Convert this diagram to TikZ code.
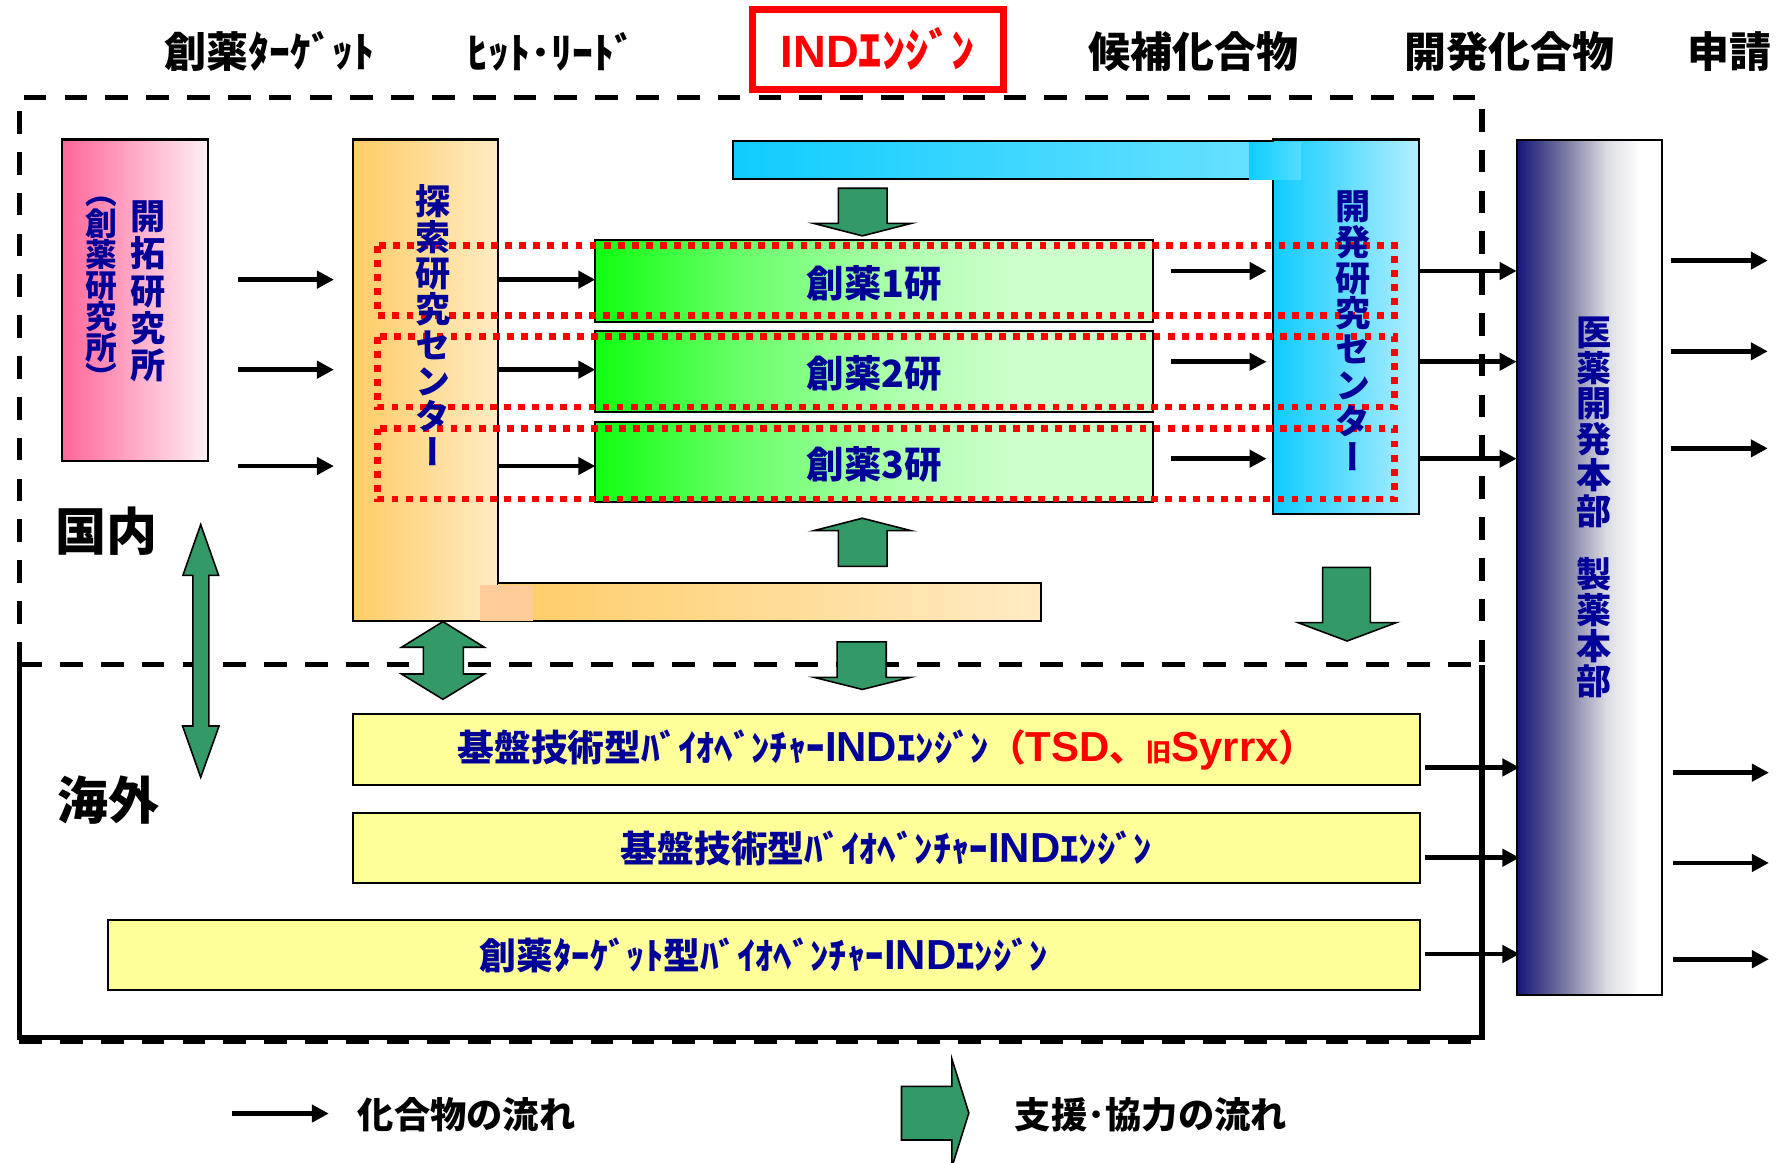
\documentclass[tikz,border=0pt]{standalone}
\usepackage{fontspec}
\newfontfamily\jp{Noto Sans CJK JP}
\newfontfamily\jpv{Noto Sans CJK JP}[RawFeature={+vert}]
\newfontfamily\lat{Liberation Sans}
\usetikzlibrary{arrows.meta,fit}
\definecolor{cNavy}{HTML}{000099}
\definecolor{cRed}{HTML}{FF0000}
\definecolor{cPinkL}{HTML}{FF6699}
\definecolor{cPinkR}{HTML}{FFF0F6}
\definecolor{cOrgL}{HTML}{FFCC66}
\definecolor{cOrgR}{HTML}{FFEBC4}
\definecolor{cPeach}{HTML}{FFCC99}
\definecolor{cCyanL}{HTML}{0FCCFF}
\definecolor{cCyanBar}{HTML}{66E0FF}
\definecolor{cCyanPatch}{HTML}{55DDFF}
\definecolor{cCyanR}{HTML}{B5EEFF}
\definecolor{cGrn0}{HTML}{11FF11}
\definecolor{cGrn1}{HTML}{66FF66}
\definecolor{cGrn2}{HTML}{B0FFB0}
\definecolor{cGrn3}{HTML}{CCFFCC}
\definecolor{cYel}{HTML}{FFFF99}
\definecolor{cBlk}{HTML}{339966}
\definecolor{cIyA}{HTML}{141478}
\definecolor{cIyB}{HTML}{7878A0}
\definecolor{cIyC}{HTML}{DCDCE4}
\definecolor{cWhite}{HTML}{FFFFFF}
\pgfdeclarehorizontalshading{iyakushade}{100bp}{color(0bp)=(cIyA); color(25bp)=(cIyA); color(41.5bp)=(cIyB); color(56bp)=(cIyC); color(67.5bp)=(cWhite); color(100bp)=(cWhite)}
\pgfdeclarehorizontalshading{grnshade}{100bp}{color(0bp)=(cGrn0); color(25bp)=(cGrn0); color(37.5bp)=(cGrn1); color(52.5bp)=(cGrn2); color(62.5bp)=(cGrn3); color(100bp)=(cGrn3)}
\newcommand\latrun[1]{{\lat\fontsize{18.5}{20}\selectfont #1}}
\begin{document}
\begin{tikzpicture}[x=0.5pt,y=-0.5pt,
  bx/.style={draw=black, line width=0.9pt, inner sep=0pt},
  vtext/.style={text=cNavy, align=center, inner sep=0pt, font=\jpv\bfseries\fontsize{15.5}{15.8}\selectfont},
  flow/.style={line width=2.1pt, -{Triangle[length=7.5pt,width=7.5pt]}},
  gblk/.style={fill=cBlk, draw=black, line width=0.7pt, line join=miter},
  frameln/.style={line width=2.3pt},
  framedash/.style={line width=2.3pt, dash pattern=on 10pt off 8pt},
  reddot/.style={draw=cRed, line width=3pt, dash pattern=on 3pt off 3.2pt},
  toplabel/.style={font=\jp\bfseries\fontsize{18.5}{20}\selectfont, inner sep=0pt},
  boxtext/.style={text=cNavy, font=\jp\bfseries\fontsize{16.2}{18}\selectfont},
  bigtext/.style={font=\jp\bfseries\fontsize{22.5}{24}\selectfont, inner sep=0pt},
  legtext/.style={font=\jp\bfseries\fontsize{16}{18}\selectfont, inner sep=0pt}
]
\useasboundingbox (0,0) rectangle (1568,1025);

% outer frame
\draw[framedash] (17,586) -- (17,86) -- (1307,86) -- (1307,586);
\draw[framedash] (17,586) -- (1307,586);
\draw[frameln] (17,586) -- (17,915) -- (1307,915) -- (1307,586);
\draw[framedash] (17,918) -- (1307,918);

% top labels
\node[toplabel] (lt1) at (238,45.5) {創薬ﾀｰｹﾞｯﾄ};
\node[toplabel] (lt2) at (486,45.5) {ﾋｯﾄ･ﾘｰﾄﾞ};
\node[fit={(663.7,8.2) (884.9,78.8)}, inner sep=0pt, draw=cRed, line width=3pt] (indbox) {};
\node[text=cRed, inner sep=0pt] (lt3) at (indbox.center) {{\lat\bfseries\fontsize{20}{22}\selectfont IND}{\jp\bfseries\fontsize{20.5}{22}\selectfont ｴﾝｼﾞﾝ}};
\node[toplabel] (lt4) at (1052.6,45.5) {候補化合物};
\node[toplabel] (lt5) at (1331,45.5) {開発化合物};
\node[toplabel] (lt6) at (1525.5,45.5) {申請};

% 開拓研究所
\node[bx, fit={(55,123) (183.5,406.5)}, left color=cPinkL, right color=cPinkR] (kaitaku) {};

% 探索研究センター + bar
\node[bx, fit={(311.5,123) (439.5,548)}, left color=cOrgL, right color=cOrgR] (tansaku) {};
\path[left color=cOrgL, right color=cOrgR] (439.5,514.4) rectangle (917.7,548);
\draw[line width=0.9pt] (439.5,514.4) -- (917.7,514.4) -- (917.7,548) -- (439.5,548);
\fill[cPeach] (423.5,516) rectangle (470.4,547.5);

% 開発研究センター + bar
\path[left color=cCyanL, right color=cCyanBar] (646.5,124) rectangle (1101.5,158);
\draw[line width=0.9pt] (1123,124) -- (646.5,124) -- (646.5,158) -- (1101.5,158);
\node[bx, fit={(1123,123) (1251,453)}, left color=cCyanL, right color=cCyanR] (kaihatsu) {};
\path[left color=cCyanL, right color=cCyanPatch] (1101.5,126) rectangle (1147,158);

% 創薬研
\node[bx, fit={(525,212) (1017,284)}, shading=grnshade] (s1) {};
\node[bx, fit={(525,291.6) (1017,363.5)}, shading=grnshade] (s2) {};
\node[bx, fit={(525,372) (1017,443)}, shading=grnshade] (s3) {};
\node[boxtext, font=\jp\bfseries\fontsize{16.5}{18}\selectfont] (s1t) at (771,250) {創薬1研};
\node[boxtext, font=\jp\bfseries\fontsize{16.5}{18}\selectfont] (s2t) at (771,329.5) {創薬2研};
\node[boxtext, font=\jp\bfseries\fontsize{16.5}{18}\selectfont] (s3t) at (771,409.5) {創薬3研};

% 医薬開発本部
\node[bx, fit={(1337.5,123.5) (1465.6,877.8)}, shading=iyakushade] (iyaku) {};

% yellow boxes
\node[bx, fit={(311.3,630) (1252.4,692.3)}, fill=cYel] (y1) {};
\node[bx, fit={(311.3,717.3) (1252.4,779)}, fill=cYel] (y2) {};
\node[bx, fit={(95.2,811.4) (1252.4,873)}, fill=cYel] (y3) {};
\node[boxtext] (y1t) at (y1.center) {基盤技術型ﾊﾞｲｵﾍﾞﾝﾁｬｰ\latrun{IND}ｴﾝｼﾞﾝ\textcolor{cRed}{（\latrun{TSD}、{\fontsize{11}{12}\selectfont 旧}\latrun{Syrrx}）}};
\node[boxtext] (y2t) at (y2.center) {基盤技術型ﾊﾞｲｵﾍﾞﾝﾁｬｰ\latrun{IND}ｴﾝｼﾞﾝ};
\node[boxtext] (y3t) at (y3.center) {創薬ﾀｰｹﾞｯﾄ型ﾊﾞｲｵﾍﾞﾝﾁｬｰ\latrun{IND}ｴﾝｼﾞﾝ};

% red dotted groups
\draw[reddot] (333,216.7) rectangle (1230,278);
\draw[reddot] (333,297) rectangle (1230,359);
\draw[reddot] (333,378) rectangle (1230,440);

% vertical texts
\node[vtext, font=\jpv\bfseries\fontsize{15.5}{16.5}\selectfont] (kaitakut) at (131,257) {開\\拓\\研\\究\\所};
\node[vtext, font=\jpv\bfseries\fontsize{14}{13.6}\selectfont] (soyakut) at (89,259) {（\\創\\薬\\研\\究\\所\\）};
\node[vtext] (tansakut) at (382,287) {探\\索\\研\\究\\セ\\ン\\タ\\ー};
\node[vtext] (kaihatsut) at (1193,291.5) {開\\発\\研\\究\\セ\\ン\\タ\\ー};
\node[vtext] (iyakut) at (1405.6,447.5) {医\\薬\\開\\発\\本\\部\\[12pt]製\\薬\\本\\部};

% black flow arrows
\foreach \y [count=\i] in {246.6,326,411} {
  \coordinate (pa\i) at (210,\y); \coordinate (pb\i) at (294.5,\y);
  \draw[flow] (pa\i) -- (pb\i);
  \coordinate (qa\i) at (440,\y); \coordinate (qb\i) at (525,\y);
  \draw[flow] (qa\i) -- (qb\i);
}
\foreach \y [count=\i] in {239,319,404.5} {
  \coordinate (ra\i) at (1033,\y); \coordinate (rb\i) at (1117,\y);
  \draw[flow] (ra\i) -- (rb\i);
  \coordinate (sa\i) at (1252,\y); \coordinate (sb\i) at (1337.5,\y);
  \draw[flow] (sa\i) -- (sb\i);
}
\foreach \y [count=\i] in {229.8,309.8,395.4} {
  \coordinate (ua\i) at (1473.5,\y); \coordinate (ub\i) at (1559,\y);
  \draw[flow] (ua\i) -- (ub\i);
}
\foreach \y [count=\i] in {676.8,756.4,841.3} {
  \coordinate (va\i) at (1256.6,\y); \coordinate (vb\i) at (1340,\y);
  \draw[flow] (va\i) -- (vb\i);
  \coordinate (wa\i) at (1475,\y+4.6); \coordinate (wb\i) at (1560,\y+4.6);
  \draw[flow] (wa\i) -- (wb\i);
}

% green block arrows
\draw[gblk] (739.4,166) -- (782.4,166) -- (782.4,197) -- (803.6,197) -- (760.5,208) -- (717.6,197) -- (739.4,197) -- cycle;
\draw[gblk] (739.4,499.5) -- (782.4,499.5) -- (782.4,468) -- (803.6,468) -- (760.5,457) -- (717.6,468) -- (739.4,468) -- cycle;
\draw[gblk] (738.3,566) -- (781.6,566) -- (781.6,597.3) -- (803.3,597.3) -- (760.5,608) -- (717.8,597.3) -- (738.3,597.3) -- cycle;
\draw[gblk] (1166.4,500.3) -- (1208.5,500.3) -- (1208.5,549.1) -- (1231.3,549.1) -- (1188,565.3) -- (1144.7,549.1) -- (1166.4,549.1) -- cycle;
\draw[gblk] (390.6,548.2) -- (427.1,570.8) -- (408.6,570.8) -- (408.6,594.4) -- (427.1,594.4) -- (390.6,616.7) -- (354.1,594.4) -- (373.3,594.4) -- (373.3,570.8) -- (354.1,570.8) -- cycle;
\draw[gblk] (177,462.6) -- (192.8,507.4) -- (184.2,507.4) -- (184.2,640.2) -- (193.2,640.2) -- (177,685.5) -- (161,640.2) -- (170.1,640.2) -- (170.1,507.4) -- (161.3,507.4) -- cycle;

% 国内 海外
\node[bigtext] (kokunai) at (93.7,468) {国内};
\node[bigtext] (kaigai) at (95.6,705.5) {海外};

% legend
\coordinate (lga) at (205,982); \coordinate (lgb) at (290,982);
\draw[flow] (lga) -- (lgb);
\node[legtext] (lg1) at (411.5,983) {化合物の流れ};
\draw[gblk] (795,958) -- (839.5,958) -- (839.5,934) -- (854.4,981.5) -- (839.5,1029) -- (839.5,1005.3) -- (795,1005.3) -- cycle;
\node[legtext] (lg2) at (1015,983) {支援･協力の流れ};
\end{tikzpicture}
\end{document}
